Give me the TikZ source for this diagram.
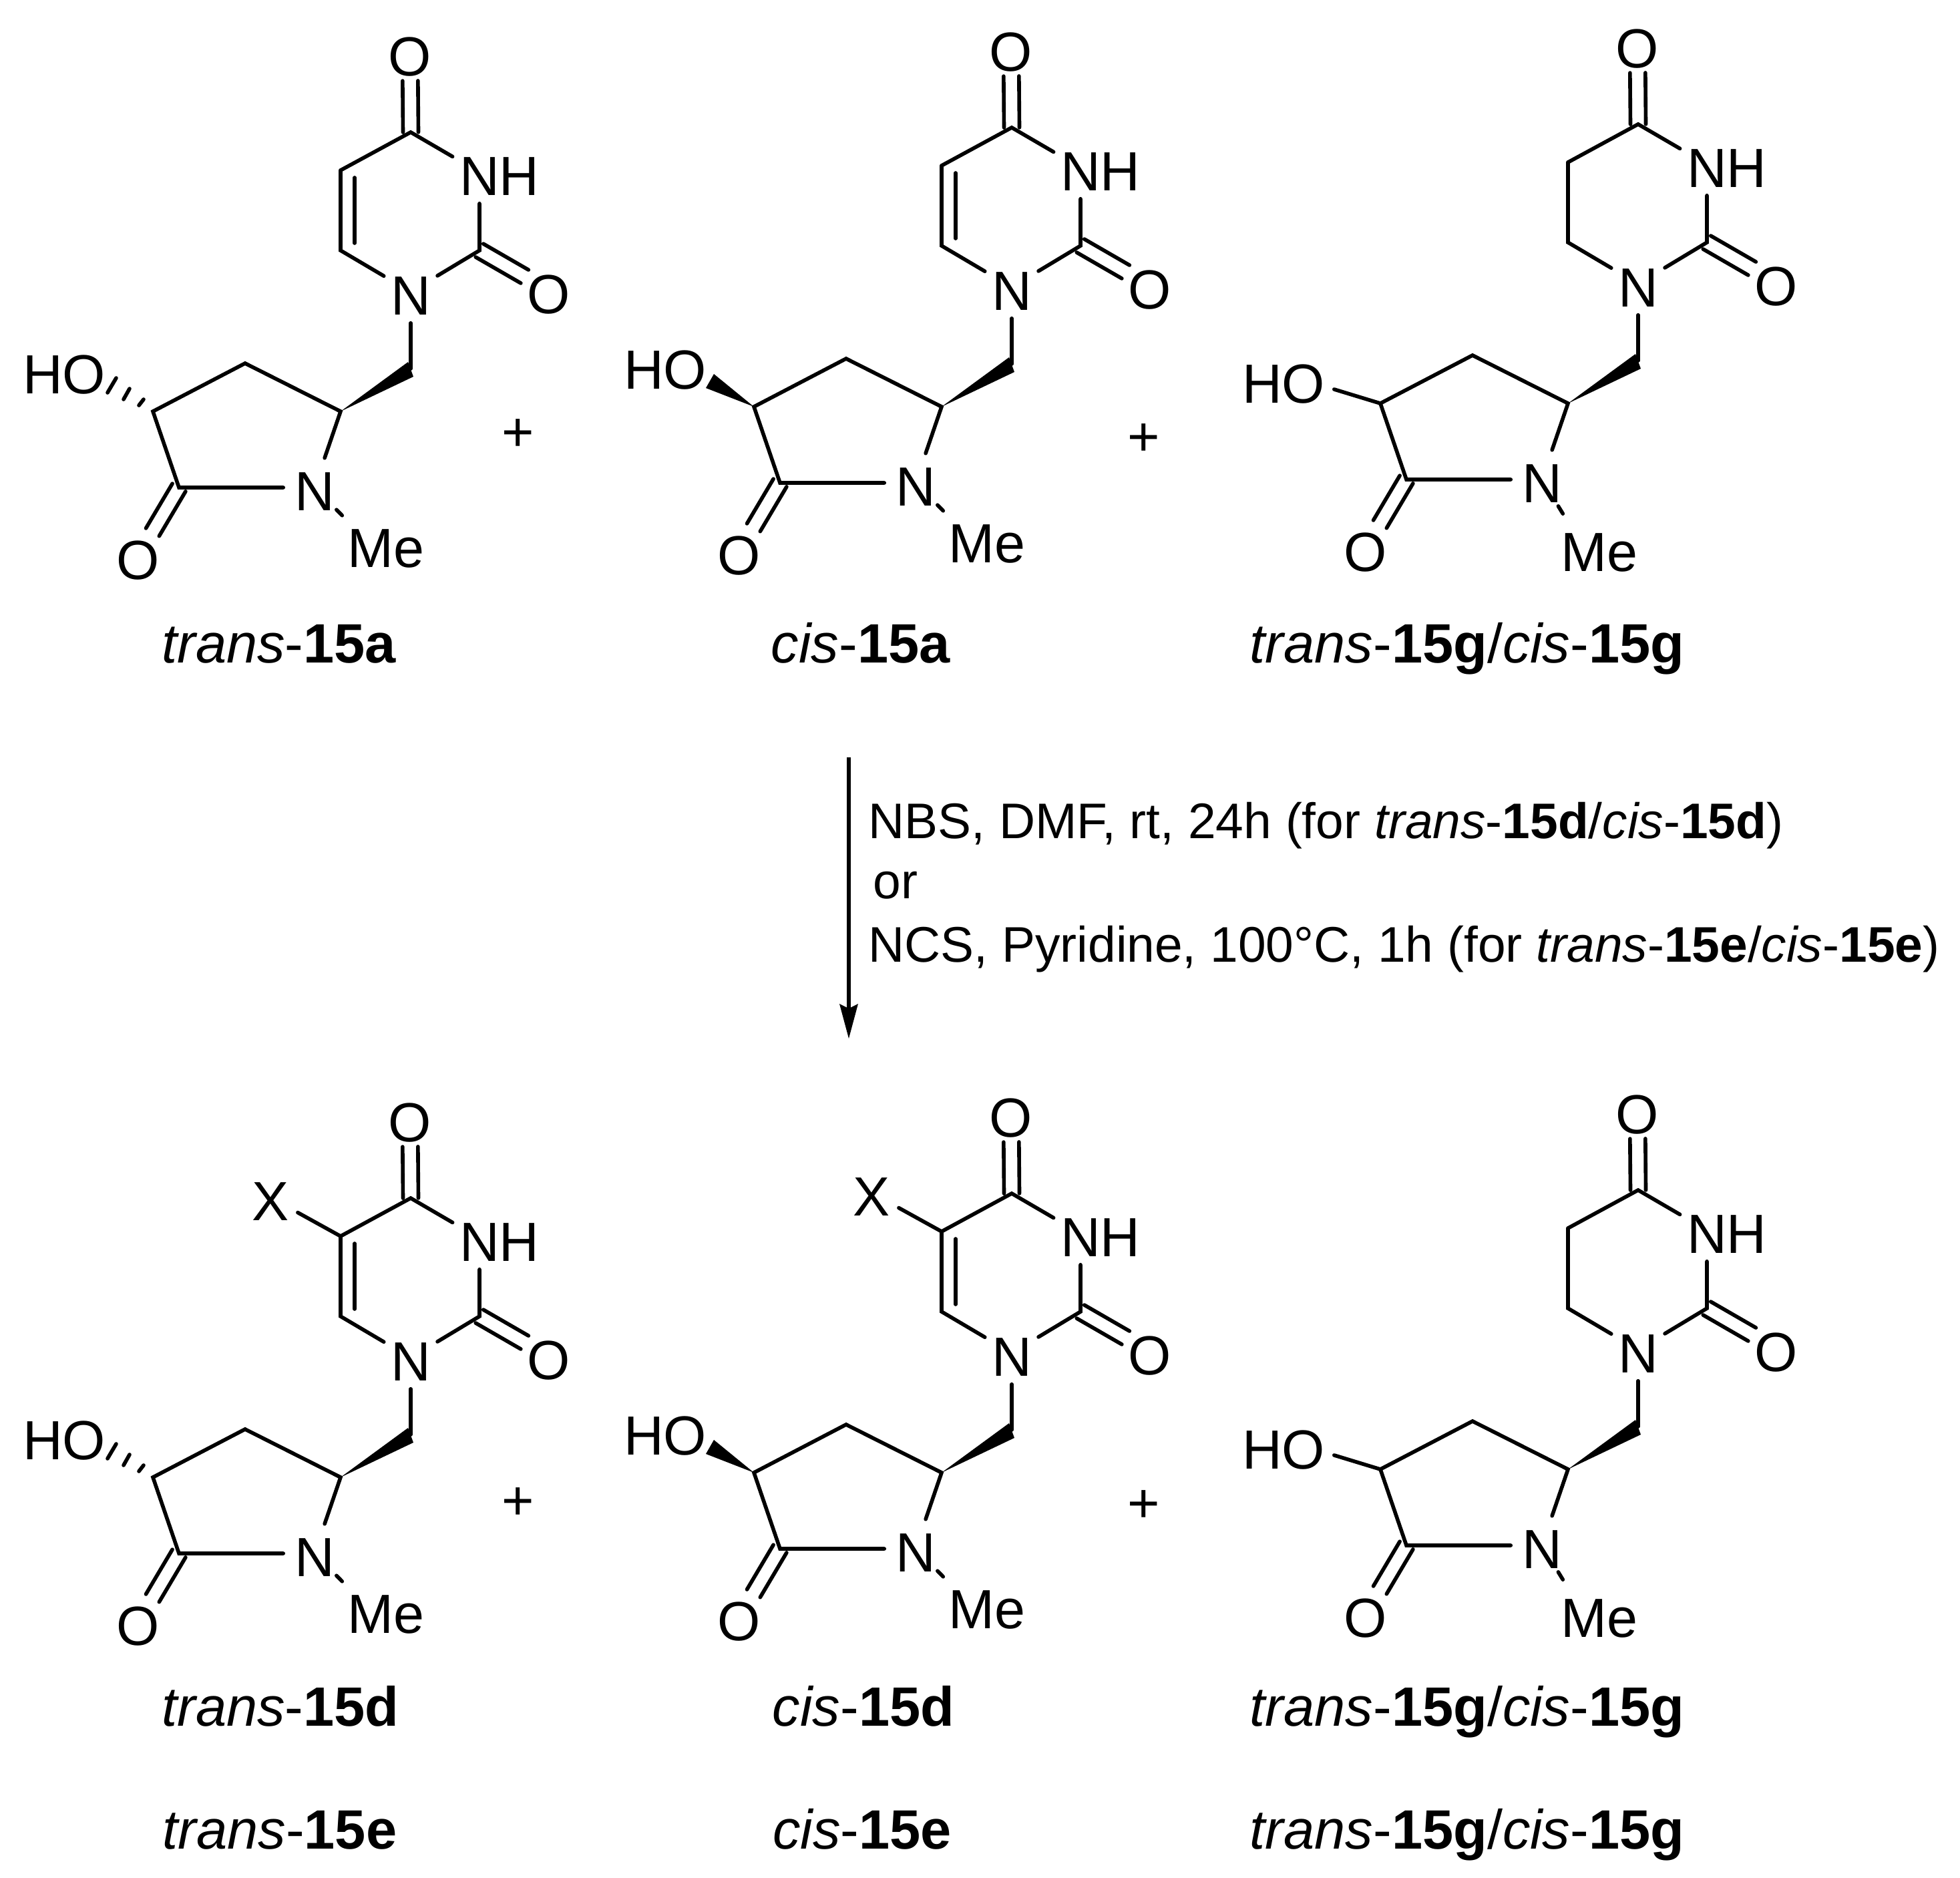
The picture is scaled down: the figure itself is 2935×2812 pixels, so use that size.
\documentclass[tikz,border=0pt]{standalone}
\usepackage{fontspec}
\setmainfont{Liberation Sans}
\usetikzlibrary{calc}
\tikzset{
	bond/.style={line width=1.6pt, line cap=round},
	atom/.style={circle, inner sep=0pt, minimum size=0.92cm, text height=0.693cm, text depth=0pt, font=\fontsize{23.5}{27}\selectfont},
	methyl/.style={atom, minimum size=1.2cm},
	txt/.style={inner sep=0pt, anchor=base, font=\fontsize{23.6}{27}\selectfont},
	reagent/.style={inner sep=0pt, anchor=base west, font=\fontsize{21.3}{26}\selectfont},
}
\def\lbl#1#2{\textit{#1}-\textbf{#2}}
% double bond from a carbon up to its oxygen
\def\dbl#1#2{
	\draw[bond, shorten >=0.42cm] ($(#1)!1.15mm!90:(#2)$) -- ($(#2)!1.15mm!-90:(#1)$);
	\draw[bond, shorten >=0.42cm] ($(#1)!1.15mm!-90:(#2)$) -- ($(#2)!1.15mm!90:(#1)$);
}
% prefix, shift x, shift y, extra ring bonds, bond to the hydroxyl
\newcommand{\molecule}[5]{
	\begin{scope}[shift={(#2,#3)}, name prefix=#1-]
		\coordinate (c4) at (615,198);
		\coordinate (c5) at (510,255);
		\coordinate (c6) at (510,375);
		\coordinate (c2) at (718,375);
		\coordinate (ch2) at (615,552);
		\coordinate (ca) at (510,616);
		\coordinate (cb) at (367,544);
		\coordinate (cc) at (229,616);
		\coordinate (cd) at (268,730);
		\node[atom] (o4) at (614,79) {O};
		\node[atom] (n3) at (718,258) {N\rlap{H}};
		\node[atom] (n1) at (615,437) {N};
		\node[atom] (o2) at (822,435) {O};
		\node[atom] (na) at (471,730) {N};
		\node[atom] (oa) at (207,833) {O};
		
		\dbl{c4}{o4}
		\dbl{c2}{o2}
		\dbl{cd}{oa}
		
		\draw[bond] (c5) -- (c4) -- (n3);
		\draw[bond] (n3) -- (c2) -- (n1);
		\draw[bond] (n1) -- (c6) -- (c5);
		\draw[bond] (n1) -- (ch2);
		\draw[bond] (na) -- (ca) -- (cb) -- (cc) -- (cd) -- (na);
		\fill (ca) -- ($(ch2)+(-4,-10)$) -- ($(ch2)+(4,12)$) -- cycle;
		#4
		#5
	\end{scope}
}
% the double bond in the ring, and X on it
\def\ringdbl{\draw[bond] ($(c5)+(21,11)$) -- ($(c6)+(21,-11)$);}
\def\halogen{\node[atom] (x) at (405,197) {X}; \draw[bond] (x) -- (c5);}
\def\meleft{\node[methyl] (me) at (555,815) {M\rlap{e}}; \draw[bond] (na) -- (me);}
\def\medown{\node[methyl] (me) at (534,833) {M\rlap{e}}; \draw[bond] (na) -- (me);}
\def\hohash{
	\node[atom] (oh) at (126,555) {\llap{H}O};
	\draw[bond] (208,607) -- (215,598);
	\draw[bond] (185,598) -- (194,582);
	\draw[bond] (161,588) -- (174,566);
}
\def\howedge{
	\node[atom] (oh) at (126,555) {\llap{H}O};
	\fill (cc) -- (157,588) -- (169,567) -- cycle;
}
\def\hoplain{
	\node[atom] (oh) at (114,581) {\llap{H}O};
	\draw[bond] (oh) -- (cc);
}

\begin{document}
\begin{tikzpicture}[x=0.01cm, y=-0.01cm]
	\useasboundingbox (0,0) rectangle (2935,2812);
	
	%%%%% top row %%%%%
	\molecule{a}{0}{0}{\ringdbl}{\hohash\meleft}
	\molecule{b}{900}{-7}{\ringdbl}{\howedge\meleft}
	\molecule{c}{1838}{-12}{}{\hoplain\medown}
	
	\node[txt] (plusa) at (776,675) {+};
	\node[txt] (plusb) at (1713,682) {+};
	\node[txt] (la) at (418,992) {\lbl{trans}{15a}};
	\node[txt] (lb) at (1289,992) {\lbl{cis}{15a}};
	\node[txt] (lc) at (2197,992) {\lbl{trans}{15g}/\lbl{cis}{15g}};
	
	%%%%% arrow %%%%%
	\coordinate (from) at (1271,1134);
	\coordinate (to) at (1271,1555);
	\draw[line width=1.7pt] (from) -- ($(to)+(0,-40)$);
	\fill (to) -- ++(-14,-52) -- ++(14,7) -- ++(14,-7) -- cycle;
	\node[reagent] (ra) at (1300,1255) {NBS, DMF, rt, 24h (for \lbl{trans}{15d}/\lbl{cis}{15d})};
	\node[reagent] (rb) at (1307,1345) {or};
	\node[reagent] (rc) at (1300,1440) {NCS, Pyridine, 100°C, 1h (for \lbl{trans}{15e}/\lbl{cis}{15e})};
	
	%%%%% bottom row %%%%%
	\molecule{d}{0}{1596}{\ringdbl\halogen}{\hohash\meleft}
	\molecule{e}{900}{1589}{\ringdbl\halogen}{\howedge\meleft}
	\molecule{f}{1838}{1584}{}{\hoplain\medown}
	
	\node[txt] (plusd) at (776,2275) {+};
	\node[txt] (pluse) at (1713,2279) {+};
	\node[txt] (ld) at (420,2584) {\lbl{trans}{15d}};
	\node[txt] (le) at (1293,2584) {\lbl{cis}{15d}};
	\node[txt] (lf) at (2197,2584) {\lbl{trans}{15g}/\lbl{cis}{15g}};
	\node[txt] (lg) at (419,2768) {\lbl{trans}{15e}};
	\node[txt] (lh) at (1291,2768) {\lbl{cis}{15e}};
	\node[txt] (li) at (2197,2768) {\lbl{trans}{15g}/\lbl{cis}{15g}};
\end{tikzpicture}
\end{document}
